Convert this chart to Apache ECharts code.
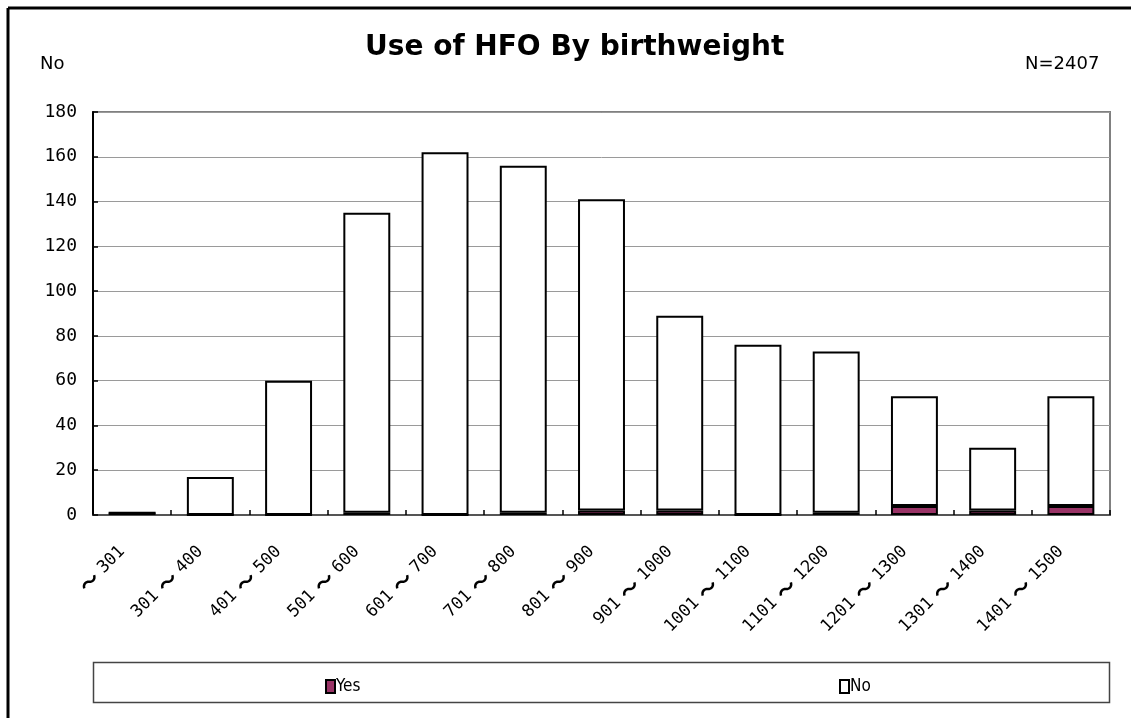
<!DOCTYPE html>
<html>
<head>
<meta charset="utf-8">
<script src="https://cdn.jsdelivr.net/npm/echarts@6/dist/echarts.min.js"></script>
<style>
  html, body { margin: 0; padding: 0; background: #fff; }
</style>
</head>
<body>
<!-- chart container -->
<div id="main" style="width: 1131px;height: 718px;"></div>
<script>
// birthweight groups
var categories = ['〜301', '301〜400', '401〜500', '501〜600', '601〜700', '701〜800', '801〜900',
  '901〜1000', '1001〜1100', '1101〜1200', '1201〜1300', '1301〜1400', '1401〜1500']
// HFO used
var yesData = [1, 0, 0, 1, 0, 1, 2, 2, 0, 1, 4, 2, 4]
// HFO not used
var noData = [0, 17, 60, 134, 162, 155, 139, 87, 76, 72, 49, 28, 49]
var yTicks = { min: 0, max: 180, interval: 20 }

var monoFont = '"DejaVu Sans Mono", "Liberation Mono", monospace'
var sansFont = '"DejaVu Sans", "Noto Sans", sans-serif'

var myChart = echarts.init(document.getElementById('main'))
var option = {
  backgroundColor: '#fff',
  animation: false,
  title: [
    {
      text: 'Use of HFO By birthweight',
      left: 360,
      top: 29,
      textStyle: { fontFamily: sansFont, fontSize: 28, fontWeight: 'bold', color: '#000' }
    },
    {
      text: 'No',
      left: 35,
      top: 50,
      textStyle: { fontFamily: sansFont, fontSize: 18, fontWeight: 'normal', color: '#000' }
    },
    {
      text: 'N=2407',
      left: 1020,
      top: 50,
      textStyle: { fontFamily: sansFont, fontSize: 18, fontWeight: 'normal', color: '#000' }
    }
  ],
  legend: [
    {
      data: ['Yes'],
      left: 320,
      top: 673,
      icon: 'rect',
      itemWidth: 9,
      itemHeight: 13,
      itemGap: 0,
      textStyle: { fontFamily: '"DejaVu Sans Condensed", ' + sansFont, fontSize: 17, color: '#000', padding: [0, 0, 0, -4] }
    },
    {
      data: ['No'],
      left: 834,
      top: 673,
      icon: 'rect',
      itemWidth: 9,
      itemHeight: 13,
      itemGap: 0,
      textStyle: { fontFamily: '"DejaVu Sans Condensed", ' + sansFont, fontSize: 17, color: '#000', padding: [0, 0, 0, -4] }
    }
  ],
  grid: {
    left: 93,
    top: 112,
    right: 21,
    bottom: 203,
    show: true,
    borderColor: '#808080',
    borderWidth: 2,
    containLabel: false
  },
  xAxis: {
    type: 'category',
    data: categories,
    boundaryGap: true,
    axisLine: { lineStyle: { color: '#555', width: 2 } },
    // ticks point up into the plot
    axisTick: { show: true, inside: false, length: -5, lineStyle: { color: '#000', width: 1.5 } },
    axisLabel: {
      rotate: 45,
      margin: 24,
      interval: 0,
      color: '#000',
      formatter: function (v) {
        var p = v.split('〜')
        return (p[0] ? '{d|' + p[0] + '}' : '') + '{t|〜}{e|' + p[1] + '}'
      },
      rich: {
        d: { fontFamily: monoFont, fontSize: 17, color: '#000' },
        e: { fontFamily: monoFont, fontSize: 17, color: '#000', padding: [0, 14, 0, 0] },
        t: { fontFamily: '"Noto Sans CJK JP", sans-serif', fontSize: 20, fontWeight: 'bold', color: '#000', padding: [0, 6] }
      }
    },
    splitLine: { show: false }
  },
  yAxis: {
    type: 'value',
    min: yTicks.min,
    max: yTicks.max,
    interval: yTicks.interval,
    axisLine: { show: true, lineStyle: { color: '#000', width: 2 } },
    axisTick: { show: true, inside: false, length: -5, lineStyle: { color: '#000', width: 1.5 } },
    axisLabel: { margin: 16, fontFamily: monoFont, fontSize: 18, color: '#000' },
    splitLine: { show: true, lineStyle: { color: '#9a9a9a', width: 1 } }
  },
  series: [
    {
      name: 'Yes',
      type: 'bar',
      stack: 'total',
      barWidth: '60%',
      data: yesData,
      itemStyle: { color: '#993366', borderColor: '#000', borderWidth: 2 }
    },
    {
      name: 'No',
      type: 'bar',
      stack: 'total',
      barWidth: '60%',
      data: noData,
      itemStyle: { color: '#fff', borderColor: '#000', borderWidth: 2 }
    }
  ],
  graphic: [
    // outer frame (left and top edge only visible)
    { type: 'line', shape: { x1: 8, y1: 8, x2: 1131, y2: 8 }, style: { stroke: '#000', lineWidth: 3 } },
    { type: 'line', shape: { x1: 8, y1: 8, x2: 8, y2: 718 }, style: { stroke: '#000', lineWidth: 3 } },
    // legend box
    { type: 'rect', z: -1, shape: { x: 93.5, y: 662.5, width: 1016, height: 40 }, style: { fill: '#fff', stroke: '#444', lineWidth: 1.5 } }
  ]
}
myChart.setOption(option)
</script>
</body>
</html>
